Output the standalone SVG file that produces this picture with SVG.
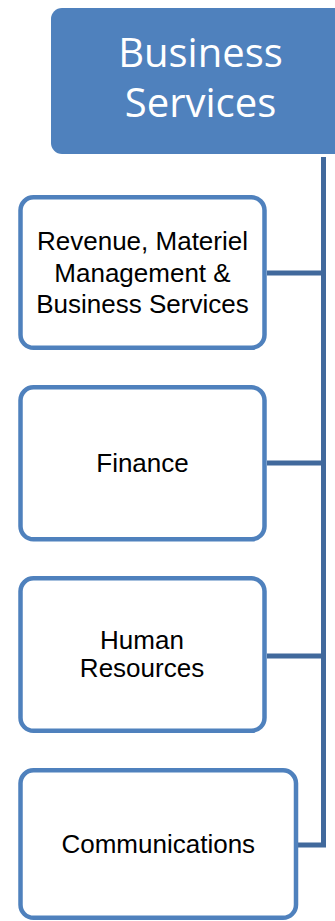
<svg xmlns="http://www.w3.org/2000/svg" width="335" height="921" viewBox="0 0 335 921">
  <style>
    .unit { fill: #ffffff; stroke: #4F81BD; stroke-width: 4.5; }
    .label { font-family: "Liberation Sans", Arial, sans-serif; font-size: 26px; fill: #000000; text-anchor: middle; }
    .title { font-family: "Open Sans", "Noto Sans", sans-serif; font-size: 40px; fill: #ffffff; text-anchor: middle; }
    .link { fill: none; stroke: #41699C; stroke-width: 5; }
  </style>
  <rect width="335" height="921" fill="#ffffff"/>

  <g id="connectors">
    <path class="link" d="M323.5,157 V845 H298"/>
    <path class="link" d="M267,273 H323.5"/>
    <path class="link" d="M267,463 H323.5"/>
    <path class="link" d="M267,656 H323.5"/>
  </g>

  <g id="business-services">
    <rect x="51" y="8" width="300" height="146" rx="11" ry="11" fill="#4F81BD"/>
    <text class="title" x="200.5" y="67">Business</text>
    <text class="title" x="200.5" y="117">Services</text>
  </g>

  <g id="revenue-materiel">
    <rect class="unit" x="20.5" y="197.3" width="244" height="150.5" rx="13" ry="13"/>
    <text class="label" x="142.5" y="250">Revenue, Materiel</text>
    <text class="label" x="142.5" y="282">Management &amp;</text>
    <text class="label" x="142.5" y="312.7">Business Services</text>
  </g>

  <g id="finance">
    <rect class="unit" x="20.5" y="387.3" width="244" height="152" rx="13" ry="13"/>
    <text class="label" x="142.5" y="471.7">Finance</text>
  </g>

  <g id="human-resources">
    <rect class="unit" x="20.5" y="578.3" width="244" height="152.5" rx="13" ry="13"/>
    <text class="label" x="142" y="649.3">Human</text>
    <text class="label" x="142" y="676.7">Resources</text>
  </g>

  <g id="communications">
    <rect class="unit" x="20.5" y="770.3" width="275.5" height="147.5" rx="13" ry="13"/>
    <text class="label" x="158.3" y="853.3">Communications</text>
  </g>
</svg>
